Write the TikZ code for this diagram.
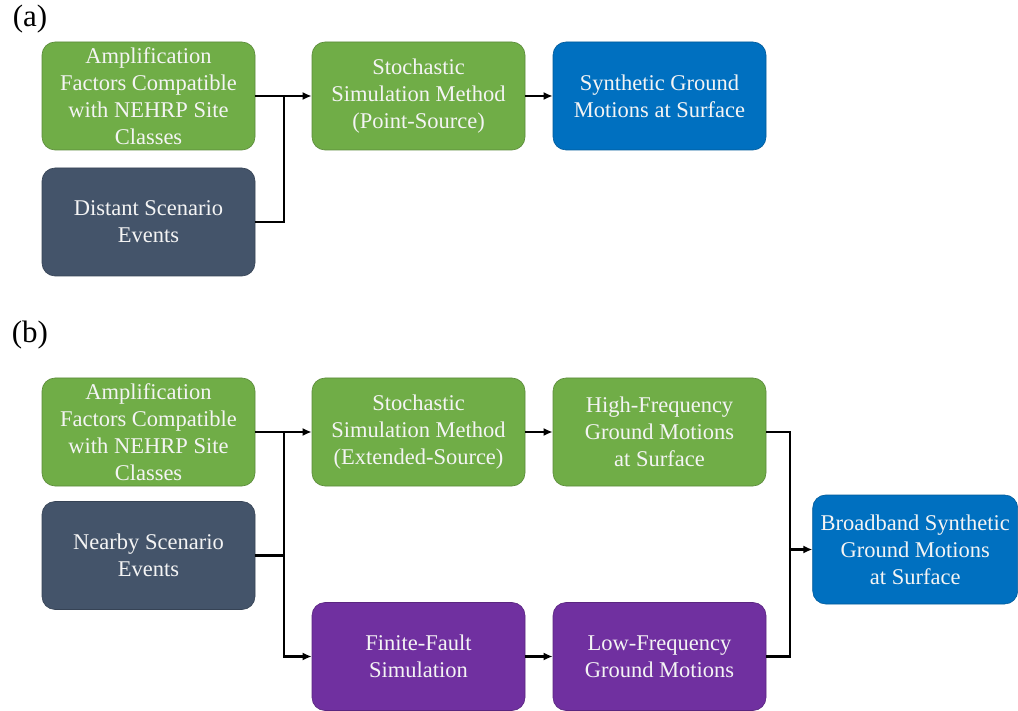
\documentclass[tikz,border=0pt]{standalone}
\usepackage{fontspec}
\setmainfont{Liberation Serif}
\usetikzlibrary{arrows.meta}
\definecolor{boxgreen}{HTML}{70AD47}
\definecolor{boxslate}{HTML}{44546A}
\definecolor{boxblue}{HTML}{0070C0}
\definecolor{boxpurple}{HTML}{7030A0}
\definecolor{boxtext}{HTML}{F4F4F4}
\begin{document}
\begin{tikzpicture}[x=1pt,y=-1pt,
  box/.style={rectangle, rounded corners=13pt, minimum width=213pt, minimum height=108pt,
    align=center, text=boxtext, font=\fontsize{22.5}{27}\selectfont, inner sep=2pt,
    fill=#1, draw=#1!80!black, line width=0.6pt},
  link/.style={line width=2.2pt, draw=black},
  feed/.style={link, -{Latex[length=9pt,width=8pt]}},
  tag/.style={font=\fontsize{31}{34}\selectfont}]
\useasboundingbox (0,0) rectangle (1018,711);

% panel (a): point-source stochastic simulation
\node[tag] (la) at (30,19) {(a)};
\node[box=boxgreen] (a1) at (148.5,96) {Amplification\\Factors Compatible\\with NEHRP Site\\Classes};
\node[box=boxslate] (d1) at (148.5,222) {Distant Scenario\\Events};
\node[box=boxgreen] (s1) at (418.5,96) {Stochastic\\Simulation Method\\(Point-Source)};
\node[box=boxblue] (g1) at (659.5,96) {Synthetic Ground\\Motions at Surface};
\coordinate (ja) at (284,96);
\draw[feed] (a1.east) -- (s1.west);
\draw[link] (d1.east) -| (ja);
\draw[feed] (s1.east) -- (g1.west);

% panel (b): extended-source and finite-fault paths
\node[tag] (lb) at (30,335) {(b)};
\node[box=boxgreen] (a2) at (148.5,432) {Amplification\\Factors Compatible\\with NEHRP Site\\Classes};
\node[box=boxslate] (n2) at (148.5,555.5) {Nearby Scenario\\Events};
\node[box=boxgreen] (s2) at (418.5,432) {Stochastic\\Simulation Method\\(Extended-Source)};
\node[box=boxgreen] (h2) at (659.5,432) {High-Frequency\\Ground Motions\\at Surface};
\node[box=boxpurple] (f2) at (418.5,656.5) {Finite-Fault\\Simulation};
\node[box=boxpurple] (l2) at (659.5,656.5) {Low-Frequency\\Ground Motions};
\node[box=boxblue, minimum width=205pt, minimum height=109pt] (b2) at (915.2,549.5) {Broadband Synthetic\\Ground Motions\\at Surface};
\coordinate (jb) at (284,432);
\coordinate (mb) at (790,549.5);
\draw[feed] (a2.east) -- (s2.west);
\draw[link] (n2.east) -| (jb);
\draw[feed] (jb) |- (f2.west);
\draw[feed] (s2.east) -- (h2.west);
\draw[feed] (f2.east) -- (l2.west);
\draw[link] (h2.east) -| (mb);
\draw[link] (l2.east) -| (mb);
\draw[feed] (mb) -- (b2.west);
\end{tikzpicture}
\end{document}
